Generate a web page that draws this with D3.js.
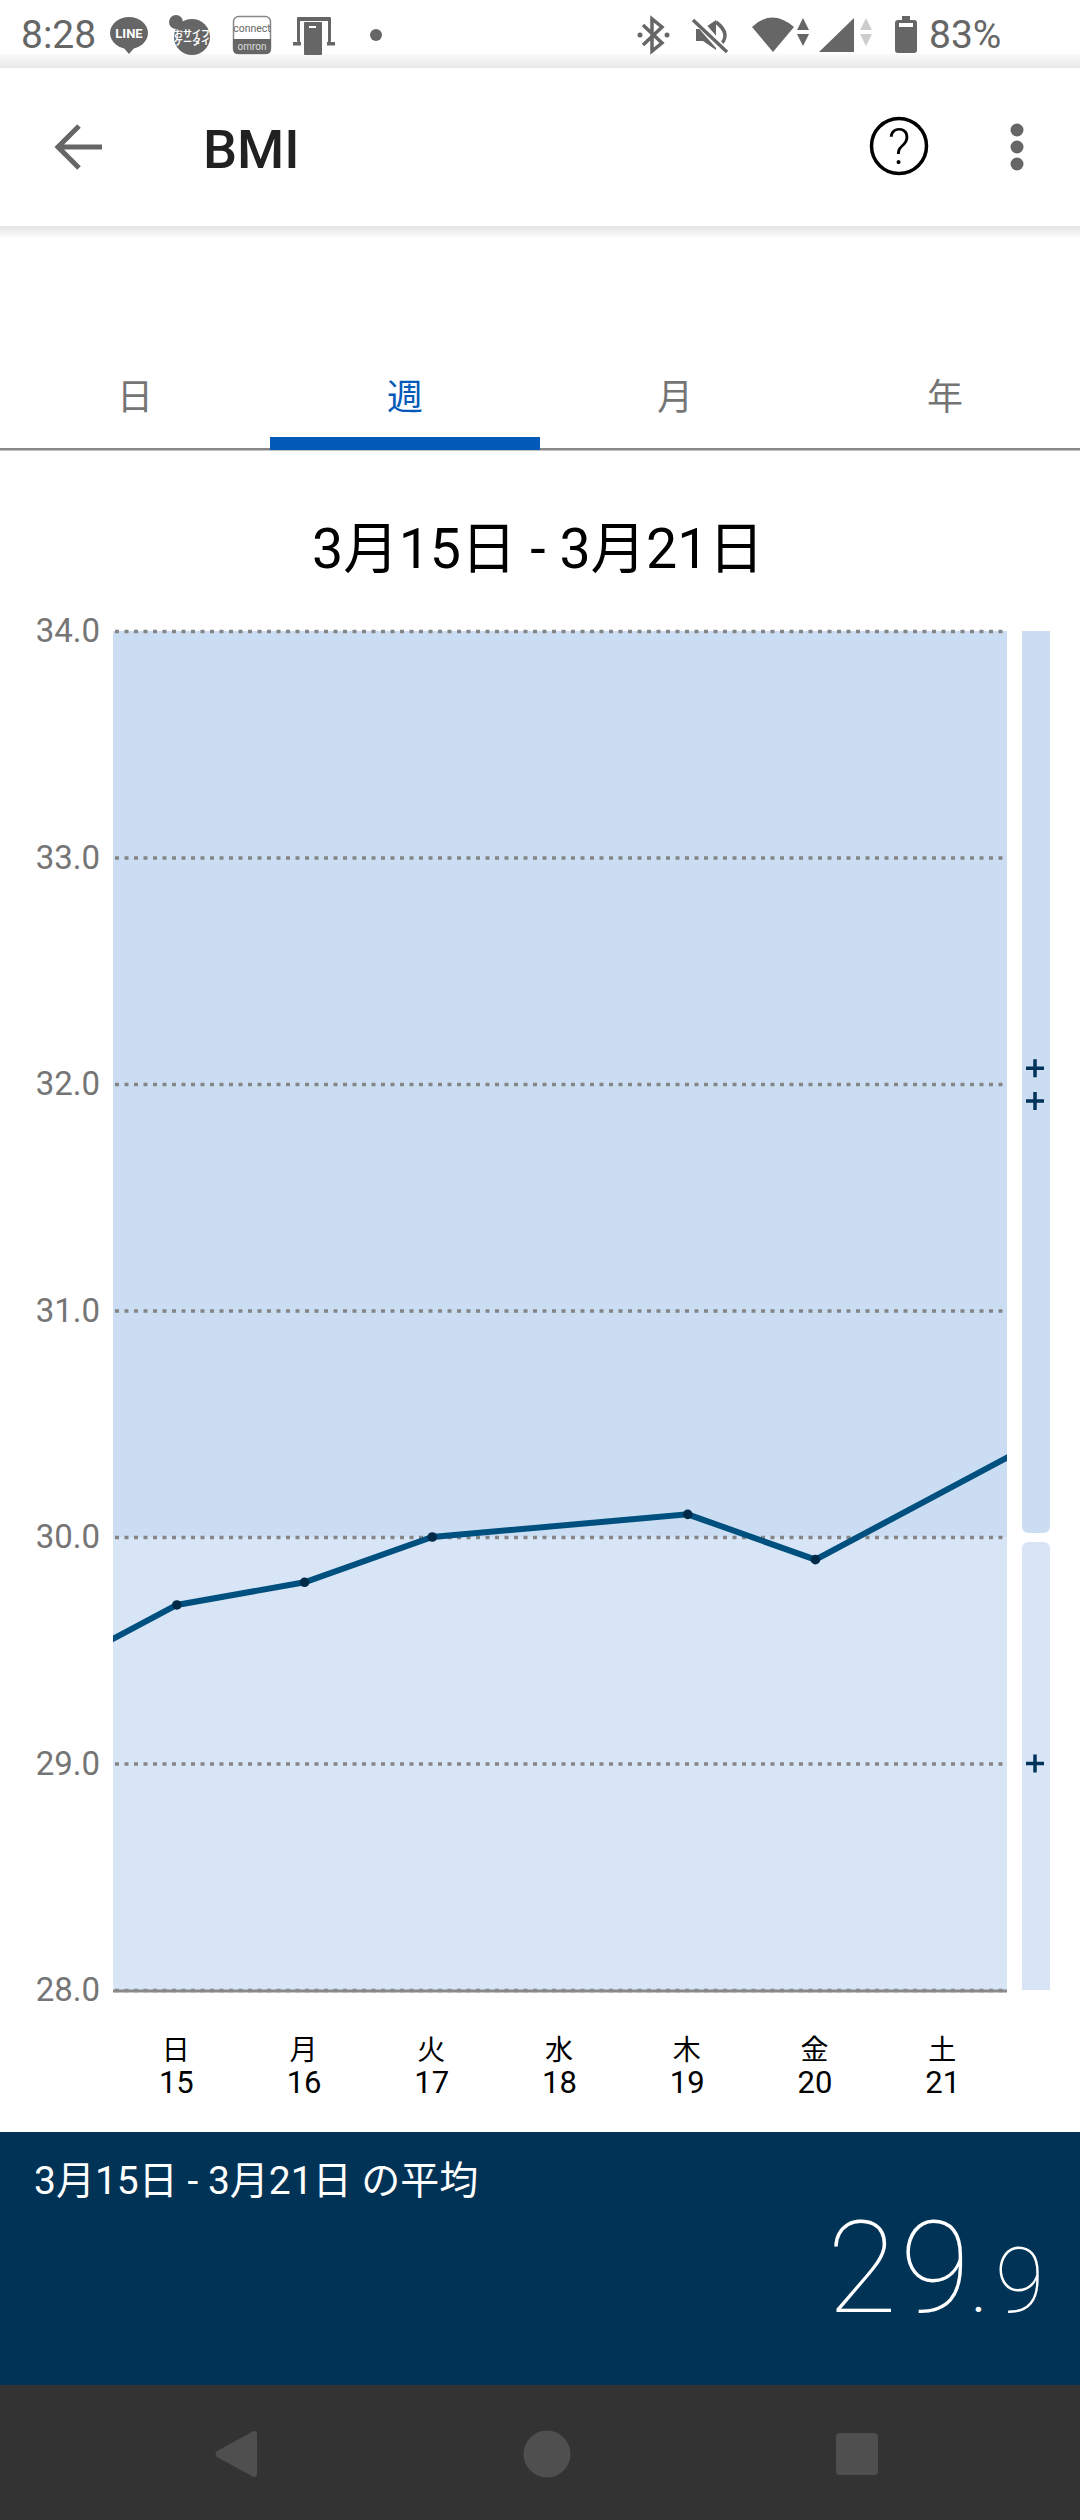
<!DOCTYPE html>
<html lang="ja">
<head>
<meta charset="utf-8">
<title>BMI</title>
<script src="https://cdn.jsdelivr.net/npm/d3@7"></script>
<style>
html, body { margin: 0; padding: 0; background: #fff; }
svg { display: block; }
text { font-family: Roboto, "Noto Sans CJK JP", sans-serif; }
</style>
</head>
<body>
<div id="chart"></div>
<script>
var days = [14, 15, 16, 17, 18, 19, 20, 21, 22];
// 14 and 22 sit outside the week, the line just runs off towards them
var bmiValues = [29.4, 29.7, 29.8, 30.0, null, 30.1, 29.9, null, 30.5];
var weekDays = [15, 16, 17, 18, 19, 20, 21];
var weekLabels = ["日", "月", "火", "水", "木", "金", "土"];
var yTicks = [28, 29, 30, 31, 32, 33, 34];
var bandLimits = [28, 30, 34];
var plusMarks = [29, 31.925, 32.07];
var tabLabels = ["日", "週", "月", "年"];
var selectedTab = 1;
var rangeLabel = "3月15日 - 3月21日";
var averageLabel = "3月15日 - 3月21日 の平均";
var averageInt = "29";
var averageDec = "9";

var width = 1080, height = 2520;
var plot = {left: 113, right: 1007, top: 631, bottom: 1990};
var side = {left: 1022, right: 1050};

var svg = d3.select("#chart").append("svg")
	.attr("width", width)
	.attr("height", height)
	.attr("viewBox", "0 0 " + width + " " + height);

var x = d3.scaleLinear().domain([14.5, 21.5]).range([plot.left, plot.right]);
var y = d3.scaleLinear().domain([28, 34]).range([plot.bottom, plot.top]);
var tabX = d3.scaleBand().domain(tabLabels).range([0, width]);

var defs = svg.append("defs");
defs.append("clipPath").attr("id", "plot-clip").append("rect")
	.attr("x", plot.left).attr("y", plot.top)
	.attr("width", plot.right - plot.left).attr("height", plot.bottom - plot.top);

function shadow(id, from, to)
{
	var g = defs.append("linearGradient").attr("id", id)
		.attr("x1", 0).attr("x2", 0).attr("y1", 0).attr("y2", 1);
	g.append("stop").attr("offset", 0).attr("stop-color", from);
	g.append("stop").attr("offset", 1).attr("stop-color", to);
}
shadow("status-shadow", "#fafafa", "#e9e9e9");
shadow("bar-shadow", "#e4e4e4", "#ffffff");

drawStatusBar();
drawAppBar();
drawTabs();
drawChart();
drawFooter();
drawNavBar();

function drawChart()
{
	svg.append("text")
		.text(rangeLabel)
		.attr("x", 538)
		.attr("y", 568)
		.attr("text-anchor", "middle")
		.attr("font-size", 55.5)
		.attr("fill", "#000");

	// background bands
	var bands = d3.pairs(bandLimits);
	var bandColors = ["#d8e5f6", "#cbddf2"];
	svg.append("g").selectAll("rect").data(bands).join("rect")
		.attr("x", plot.left)
		.attr("y", function(d){ return y(d[1]); })
		.attr("width", plot.right - plot.left)
		.attr("height", function(d){ return y(d[0]) - y(d[1]); })
		.attr("fill", function(d, i){ return bandColors[i]; });

	// side bar, small gap where the two bands meet
	svg.append("path")
		.attr("fill", bandColors[1])
		.attr("d", sidePath(y(34), y(30) - 4, false));
	svg.append("path")
		.attr("fill", bandColors[0])
		.attr("d", sidePath(y(30) + 5, y(28), true));

	var plusG = svg.append("g").attr("stroke", "#00335a").attr("stroke-width", 3.5);
	plusG.selectAll("path").data(plusMarks).join("path")
		.attr("d", function(d){
			var cx = (side.left + side.right) / 2 - 1, cy = y(d);
			return "M" + (cx - 9) + "," + cy + "H" + (cx + 9) + "M" + cx + "," + (cy - 9) + "V" + (cy + 9);
		});

	// y axis, the tick lines are the dotted grid
	var yAxis = d3.axisLeft(y)
		.tickValues(yTicks)
		.tickSize(-(plot.right - plot.left - 2))
		.tickPadding(13)
		.tickFormat(d3.format(".1f"));
	var gy = svg.append("g")
		.attr("transform", "translate(" + plot.left + ",0)")
		.call(yAxis);
	gy.select(".domain").remove();
	gy.selectAll("line")
		.attr("stroke", "#858585")
		.attr("stroke-width", 3.5)
		.attr("stroke-dasharray", "4 5.5")
		.attr("stroke-dashoffset", -2);
	gy.selectAll("text")
		.attr("fill", "#757575")
		.attr("font-size", 33)
		.attr("font-family", "Roboto, sans-serif");

	svg.append("line")
		.attr("x1", plot.left).attr("x2", plot.right)
		.attr("y1", y(28) + 1).attr("y2", y(28) + 1)
		.attr("stroke", "#8a8a8a").attr("stroke-width", 3);

	// x axis, two rows of labels
	var xAxis = d3.axisBottom(x)
		.tickValues(weekDays)
		.tickSize(0)
		.tickPadding(81)
		.tickFormat(d3.format("d"));
	var gx = svg.append("g")
		.attr("transform", "translate(-1," + plot.bottom + ")")
		.call(xAxis);
	gx.select(".domain").remove();
	gx.selectAll("text")
		.attr("fill", "#000")
		.attr("font-size", 31)
		.attr("font-family", "Roboto, sans-serif");

	svg.append("g").selectAll("text").data(weekDays).join("text")
		.text(function(d, i){ return weekLabels[i]; })
		.attr("x", function(d){ return x(d) - 1; })
		.attr("y", 2060)
		.attr("text-anchor", "middle")
		.attr("font-size", 28)
		.attr("fill", "#000");

	// line, skips the days with no value
	var points = days.map(function(d, i){ return {day: d, value: bmiValues[i]}; })
		.filter(function(d){ return d.value !== null; });
	var lineGenerator = d3.line()
		.x(function(d){ return x(d.day); })
		.y(function(d){ return y(d.value); });
	svg.append("path")
		.datum(points)
		.attr("clip-path", "url(#plot-clip)")
		.attr("fill", "none")
		.attr("stroke", "#00507f")
		.attr("stroke-width", 6)
		.attr("d", lineGenerator);
	svg.append("g").selectAll("circle")
		.data(points.filter(function(d){ return d.day >= 15 && d.day <= 21; }))
		.join("circle")
		.attr("cx", function(d){ return x(d.day); })
		.attr("cy", function(d){ return y(d.value); })
		.attr("r", 4.8)
		.attr("fill", "#002a48");
}

function sidePath(top, bottom, roundTop)
{
	var r = 7, l = side.left, w = side.right;
	if (roundTop) {
		return "M" + l + "," + bottom + "V" + (top + r) + "Q" + l + "," + top + " " + (l + r) + "," + top +
			"H" + (w - r) + "Q" + w + "," + top + " " + w + "," + (top + r) + "V" + bottom + "Z";
	}
	return "M" + l + "," + top + "V" + (bottom - r) + "Q" + l + "," + bottom + " " + (l + r) + "," + bottom +
		"H" + (w - r) + "Q" + w + "," + bottom + " " + w + "," + (bottom - r) + "V" + top + "Z";
}

function drawStatusBar()
{
	var gray = "#666666";
	var g = svg.append("g");
	g.append("rect").attr("x", 0).attr("y", 54).attr("width", width).attr("height", 14)
		.attr("fill", "url(#status-shadow)");
	g.append("text").text("8:28").attr("x", 21).attr("y", 48)
		.attr("font-size", 39).attr("fill", gray);

	// LINE
	g.append("ellipse").attr("cx", 129).attr("cy", 33).attr("rx", 19).attr("ry", 16).attr("fill", gray);
	g.append("path").attr("d", "M123,47L129,54L135,47Z").attr("fill", gray);
	g.append("text").text("LINE").attr("x", 129).attr("y", 38).attr("text-anchor", "middle")
		.attr("font-size", 13).attr("font-weight", 700).attr("fill", "#fff");

	// osaifu keitai
	g.append("circle").attr("cx", 192).attr("cy", 37).attr("r", 18).attr("fill", gray);
	g.append("circle").attr("cx", 176).attr("cy", 22).attr("r", 7).attr("fill", gray);
	g.append("text").text("おサイフ").attr("x", 192).attr("y", 37).attr("text-anchor", "middle")
		.attr("font-size", 9).attr("font-weight", 700).attr("fill", "#fff");
	g.append("text").text("ケータイ").attr("x", 192).attr("y", 45).attr("text-anchor", "middle")
		.attr("font-size", 9).attr("font-weight", 700).attr("fill", "#fff");

	// omron connect
	g.append("rect").attr("x", 233.5).attr("y", 16.5).attr("width", 37).attr("height", 37).attr("rx", 5)
		.attr("fill", "#fff").attr("stroke", "#888").attr("stroke-width", 1.5);
	g.append("path").attr("d", "M233,39H271V49Q271,54 266,54H238Q233,54 233,49Z").attr("fill", gray);
	g.append("text").text("connect").attr("x", 252).attr("y", 32).attr("text-anchor", "middle")
		.attr("font-size", 10.5).attr("fill", gray);
	g.append("text").text("omron").attr("x", 252).attr("y", 50).attr("text-anchor", "middle")
		.attr("font-size", 10).attr("fill", "#ddd");

	// phone on a stand
	g.append("rect").attr("x", 297).attr("y", 17).attr("width", 34).attr("height", 25).attr("rx", 1).attr("fill", gray);
	g.append("rect").attr("x", 300).attr("y", 21).attr("width", 28).attr("height", 24).attr("fill", "#fff");
	g.append("rect").attr("x", 293).attr("y", 42).attr("width", 8).attr("height", 3.5).attr("fill", gray);
	g.append("rect").attr("x", 327).attr("y", 42).attr("width", 8).attr("height", 3.5).attr("fill", gray);
	g.append("rect").attr("x", 304).attr("y", 22).attr("width", 18).attr("height", 33).attr("rx", 1).attr("fill", gray);
	g.append("rect").attr("x", 309).attr("y", 26).attr("width", 7).attr("height", 2).attr("fill", "#fff");
	g.append("circle").attr("cx", 376).attr("cy", 35).attr("r", 6).attr("fill", gray);

	// bluetooth
	g.append("path").attr("d", "M643,25L662,43L652,51V19L662,27L643,45")
		.attr("fill", "none").attr("stroke", gray).attr("stroke-width", 3.5);
	g.append("circle").attr("cx", 640).attr("cy", 35).attr("r", 2.5).attr("fill", gray);
	g.append("circle").attr("cx", 667).attr("cy", 35).attr("r", 2.5).attr("fill", gray);

	// muted speaker
	g.append("path").attr("d", "M696,29H703L716,20V50L703,41H696Z").attr("fill", gray);
	g.append("path").attr("d", "M716,22Q733,35 718,47").attr("fill", "none").attr("stroke", gray).attr("stroke-width", 3.5);
	g.append("path").attr("d", "M695,18L725,52").attr("stroke", "#fff").attr("stroke-width", 8);
	g.append("path").attr("d", "M693,20L727,52").attr("stroke", gray).attr("stroke-width", 3.5);

	// wifi
	g.append("path").attr("d", "M752,27Q772,8 794,27L773,52Z").attr("fill", gray);
	g.append("path").attr("d", "M803,18L809,30H797ZM803,46L797,34H809Z").attr("fill", gray);

	// signal
	g.append("path").attr("d", "M819,52L854,18V52Z").attr("fill", gray);
	g.append("path").attr("d", "M866,18L872,30H860ZM866,46L860,34H872Z").attr("fill", "#cccccc");

	// battery
	g.append("path").attr("d", "M902,16H910V20H914Q917,20 917,23V50Q917,53 914,53H898Q895,53 895,50V23Q895,20 898,20H902Z").attr("fill", gray);
	g.append("rect").attr("x", 899).attr("y", 23).attr("width", 14).attr("height", 4).attr("fill", "#fff");
	g.append("text").text("83%").attr("x", 929).attr("y", 48)
		.attr("font-size", 39).attr("fill", gray);
}

function drawAppBar()
{
	var g = svg.append("g");
	g.append("rect").attr("x", 0).attr("y", 226).attr("width", width).attr("height", 13)
		.attr("fill", "url(#bar-shadow)");
	g.append("path").attr("d", "M102,147H60M79,126L58,147L79,168")
		.attr("fill", "none").attr("stroke", "#666").attr("stroke-width", 5);
	g.append("text").text("BMI").attr("x", 203).attr("y", 168)
		.attr("font-size", 54).attr("font-weight", 500).attr("fill", "#212121");
	g.append("circle").attr("cx", 899).attr("cy", 146).attr("r", 27.5)
		.attr("fill", "none").attr("stroke", "#000").attr("stroke-width", 3.5);
	g.append("text").text("?").attr("x", 899).attr("y", 164).attr("text-anchor", "middle")
		.attr("font-size", 50).attr("font-weight", 300).attr("fill", "#000");
	g.selectAll("circle.dot").data([130, 147, 164]).join("circle")
		.attr("class", "dot")
		.attr("cx", 1017).attr("cy", function(d){ return d; }).attr("r", 6.5)
		.attr("fill", "#666");
}

function drawTabs()
{
	var g = svg.append("g");
	g.append("rect").attr("x", 0).attr("y", 448).attr("width", width).attr("height", 2.5).attr("fill", "#888");
	g.append("rect")
		.attr("x", tabX(tabLabels[selectedTab]))
		.attr("y", 437)
		.attr("width", tabX.bandwidth())
		.attr("height", 13)
		.attr("fill", "#045ab8");
	g.selectAll("text").data(tabLabels).join("text")
		.text(function(d){ return d; })
		.attr("x", function(d){ return tabX(d) + tabX.bandwidth() / 2; })
		.attr("y", 410)
		.attr("text-anchor", "middle")
		.attr("font-size", 36)
		.attr("fill", function(d, i){ return i == selectedTab ? "#045ab8" : "#757575"; });
}

function drawFooter()
{
	var g = svg.append("g");
	g.append("rect").attr("x", 0).attr("y", 2132).attr("width", width).attr("height", 253).attr("fill", "#003356");
	g.append("text").text(averageLabel).attr("x", 34).attr("y", 2194)
		.attr("font-size", 39).attr("fill", "#fff");
	g.append("text").text(averageInt).attr("x", 827).attr("y", 2312)
		.attr("font-size", 128).attr("font-weight", 100).attr("letter-spacing", 3).attr("fill", "#fff");
	g.append("text").text(".").attr("x", 973).attr("y", 2312)
		.attr("font-size", 40).attr("font-weight", 500).attr("fill", "#fff");
	g.append("text").text(averageDec).attr("x", 995).attr("y", 2312)
		.attr("font-size", 90).attr("font-weight", 100).attr("fill", "#fff");
}

function drawNavBar()
{
	var g = svg.append("g");
	g.append("rect").attr("x", 0).attr("y", 2385).attr("width", width).attr("height", 135).attr("fill", "#333333");
	g.append("path").attr("d", "M254,2431Q257,2431 257,2434V2474Q257,2477 254,2477Q252,2477 250,2475L217,2457Q214,2454 217,2451L250,2433Q252,2431 254,2431Z")
		.attr("fill", "#4f4f4f");
	g.append("circle").attr("cx", 547).attr("cy", 2454).attr("r", 23.5).attr("fill", "#4f4f4f");
	g.append("rect").attr("x", 836).attr("y", 2433).attr("width", 42).attr("height", 42).attr("rx", 4).attr("fill", "#4f4f4f");
}
</script>
</body>
</html>
